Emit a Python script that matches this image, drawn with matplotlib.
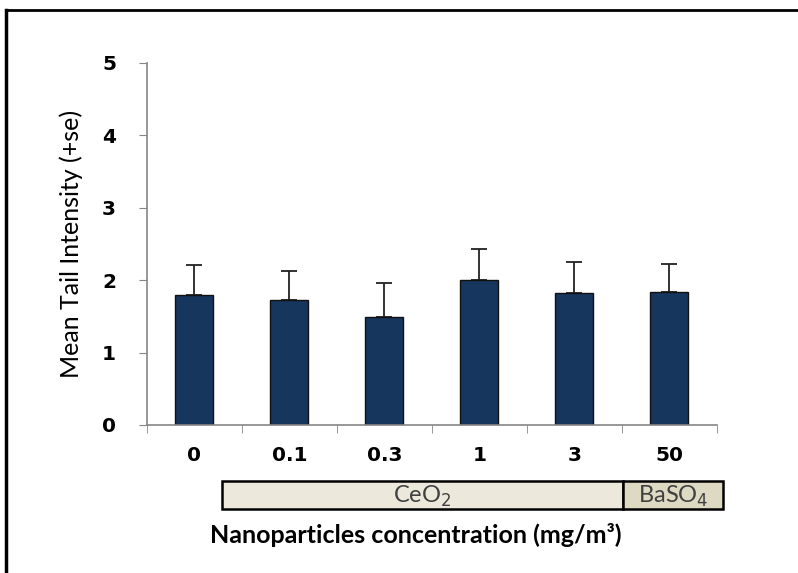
import matplotlib
matplotlib.use("Agg")
import matplotlib.pyplot as plt
from matplotlib.patches import Rectangle
from matplotlib.lines import Line2D

# data
concentrations = ["0", "0.1", "0.3", "1", "3", "50"]
mean_tail = [1.79, 1.73, 1.49, 2.00, 1.82, 1.84]
se_upper = [0.42, 0.39, 0.47, 0.43, 0.43, 0.38]
groups = ["CeO$_2$", "BaSO$_4$"]

bar_color = "#17365D"
axis_gray = "#868686"

fig = plt.figure(figsize=(7.98, 5.73), dpi=100)
ax = fig.add_axes([0.1838, 0.2583, 0.7147, 0.6323])

x = list(range(len(concentrations)))
ax.bar(x, mean_tail, width=0.4, color=bar_color, edgecolor="#111111", linewidth=1, zorder=2)
ax.errorbar(x, mean_tail, yerr=[[0] * len(se_upper), se_upper], fmt="none",
            ecolor="#222222", elinewidth=1.3, capsize=6, capthick=1.3, zorder=1)

ax.set_xlim(-0.5, len(concentrations) - 0.5)
ax.set_ylim(0, 5)
ax.set_yticks(range(0, 6))
ax.set_xticks(x)
ax.set_xticklabels(concentrations)
ax.set_xticks([i - 0.5 for i in range(len(concentrations) + 1)], minor=True)
ax.tick_params(axis="x", which="major", length=0, pad=15)
ax.tick_params(axis="x", which="minor", length=6, color=axis_gray, direction="out")
ax.tick_params(axis="y", length=6, color=axis_gray, direction="out", pad=16)
for lab in ax.get_xticklabels() + ax.get_yticklabels():
    lab.set_fontweight("bold")
    lab.set_fontsize(14.5)
    lab.set_family("DejaVu Sans")

for s in ["top", "right"]:
    ax.spines[s].set_visible(False)
for s in ["left", "bottom"]:
    ax.spines[s].set_color(axis_gray)
    ax.spines[s].set_linewidth(1.2)

ax.set_ylabel("Mean Tail Intensity (+se)", fontsize=18, family="Lato", labelpad=14)

# group boxes under the axis
box_edges = [0.2782, 0.7803, 0.906]
box_fills = ["#ECE9DC", "#DDD9C3"]
for i, g in enumerate(groups):
    x0, x1 = box_edges[i], box_edges[i + 1]
    fig.patches.append(Rectangle((x0, 0.1117), x1 - x0, 0.0489, transform=fig.transFigure,
                                 facecolor=box_fills[i], edgecolor="black", linewidth=1.8))
    fig.text((x0 + x1) / 2, 0.1345, g, ha="center", va="center", fontsize=17,
             family="Lato", color="#404040")

fig.text(0.521, 0.066, "Nanoparticles concentration (mg/m\u00b3)", ha="center", va="center",
         fontsize=18, fontweight="bold", family="Lato")

# frame remains (top and left edges)
fig.add_artist(Line2D([0.0075, 1.0], [0.9817, 0.9817], transform=fig.transFigure,
                      color="black", linewidth=2))
fig.add_artist(Line2D([0.0075, 0.0075], [0.0, 0.9817], transform=fig.transFigure,
                      color="black", linewidth=2.5))

fig.savefig("out.png", dpi=100)
